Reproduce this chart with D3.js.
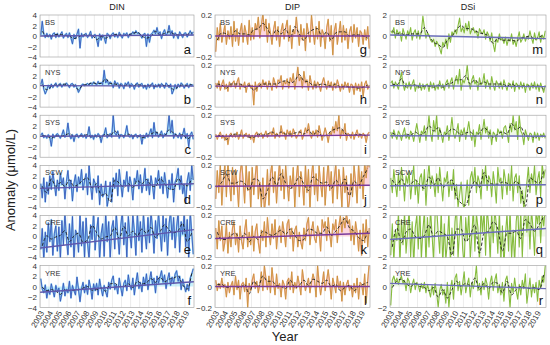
<!DOCTYPE html>
<html><head><meta charset="utf-8">
<script src="https://cdn.jsdelivr.net/npm/d3@7"></script>
<style>body{margin:0;background:#fff}svg{display:block;font-family:"Liberation Sans",Arial,sans-serif}</style>
</head><body><svg id="c" width="550" height="345"></svg>
<script>
const variables = ["DIN","DIP","DSi"];
const stations = ["BS","NYS","SYS","SCW","CRE","YRE"];
const panelLetters = [["a","b","c","d","e","f"],["g","h","i","j","k","l"],["m","n","o","p","q","r"]];
const yearTicks = [2003,2004,2005,2006,2007,2008,2009,2010,2011,2012,2013,2014,2015,2016,2017,2018,2019];
const yTicksDIN = [-4,-2,0,2,4];
const yTicksDIP = [-0.2,0,0.2];
const yTicksDSi = [-2,0,2];

// bimonthly anomalies (6 per year, 2003-2019)
const dinBS = [0.2,2.8,0.4,-0.3,0.5,-0.2, 0.3,-0.6,0.4,0.6,-0.3,0.5, -0.2,0.3,0.8,-0.4,0.2,0.5, -0.3,0.6,-0.4,-1.5,0.3,-0.5, 0.4,1.3,-2.3,0.5,-0.2,0.3, 0.5,-0.3,0.2,0.9,-0.4,0.1, 0.3,-0.6,-2.0,0.4,-0.8,0.2, -0.3,-1.4,0.5,0.2,-0.5,0.3, 0.6,-0.2,0.4,-0.3,0.7,0.1, -0.4,0.5,0.2,0.6,-0.3,0.4, 0.3,0.8,0.4,1.0,0.5,0.6, 0.2,-0.4,0.3,0.5,-2.0,0.4, -1.2,0.3,0.6,1.1,0.4,1.6, 0.3,0.8,-0.5,0.6,1.2,0.2, 0.5,2.0,0.3,1.0,-0.4,0.6, 0.2,-0.5,0.8,0.3,-0.3,0.5, 0.6,-0.2,0.4,1.0,0.3,0.8];
const dinNYS = [0.3,1.3,-0.6,-1.5,-0.8,0.2, -0.5,0.4,-0.3,0.2,0.6,-0.2, 0.3,0.5,-0.2,0.4,0.1,0.6, 0.2,-0.3,0.4,0.5,-0.2,0.3, -0.4,-1.2,-0.6,0.2,0.4,0.1, 0.3,0.5,0.2,0.6,0.3,0.8, 0.5,0.2,0.9,0.4,0.7,0.3, 3.0,0.6,1.2,0.3,0.8,0.5, -0.3,1.0,0.4,0.6,-0.4,0.5, 0.3,-0.5,0.6,0.2,0.8,-0.3, 0.5,0.2,-0.6,0.4,0.6,-0.2, 0.3,0.5,-0.4,0.2,-0.6,0.4, -0.3,0.2,0.6,-0.5,0.3,-0.2, 0.4,-0.3,0.5,0.2,-0.4,0.6, 0.2,-0.3,0.4,-1.5,-0.8,0.3, -0.5,0.4,-0.2,0.6,0.3,-0.4, 0.2,0.5,-0.3,0.4,0.1,0.3];
const dinSYS = [0.2,0.6,-0.3,0.1,-0.4,0.3, -0.2,-1.9,0.4,-0.3,0.2,0.5, 0.1,-0.4,0.3,1.2,-0.2,0.3, 2.5,0.2,-0.5,0.3,-1.0,0.2, 0.4,-0.3,0.1,0.5,-0.2,0.3, -0.4,0.2,1.8,-0.3,0.2,-0.6, 0.3,-0.2,0.5,0.1,-1.2,0.2, 0.4,1.6,-0.3,0.2,0.5,-0.2, 4.0,0.6,0.2,1.0,-0.4,0.3, 0.2,-0.3,0.5,2.0,0.1,-0.2, 0.3,-0.5,0.2,0.4,-0.3,0.1, 0.3,-1.5,0.2,-0.4,0.6,-0.2, 0.5,1.4,-0.3,2.6,0.2,0.8, -0.2,0.4,1.0,-0.3,0.5,0.2, 1.2,4.0,0.6,3.0,-0.4,0.5, 0.2,-0.3,0.6,-0.5,0.3,1.5, -0.4,0.5,-2.0,0.3,0.8,-0.6];
const dinSCW = [0.5,-2.2,1.6,-3.0,0.8,-1.5, 2.0,-0.6,2.8,0.5,-1.8,1.2, -0.8,2.5,0.3,1.6,-2.4,0.9, 3.0,-0.5,1.2,-2.8,0.6,2.2, -1.0,1.8,0.4,3.2,-0.7,1.0, 2.4,-1.6,4.0,0.2,-2.5,1.4, 0.6,-1.2,2.0,-3.5,0.4,-2.0, -1.5,1.0,-3.8,-2.2,0.8,-3.0, 1.6,-0.4,2.5,-1.8,3.2,0.5, -2.0,1.2,0.2,2.8,-1.0,1.8, 0.4,-2.6,1.5,0.8,3.0,-0.5, 2.2,-1.2,0.6,3.4,-0.8,1.4, -1.6,2.0,0.2,-2.4,1.6,0.6, 3.0,-0.4,1.8,-1.4,2.6,0.3, -2.2,1.2,-0.6,2.4,-3.0,0.8, 1.6,3.4,-0.6,2.0,-1.4,0.4, -3.2,1.0,2.6,-0.8,4.0,1.2];
const dinCRE = [-2.5,1.5,-4.5,0.8,-3.0,2.6, -1.0,3.2,-3.6,0.5,2.0,-2.8, 1.8,-4.2,3.0,-1.6,4.5,-0.5, -3.5,2.4,-2.0,3.8,-4.6,1.2, 0.6,-3.0,4.2,-1.8,2.8,-4.0, 3.5,-1.2,-4.5,2.2,-0.6,4.8, -2.6,1.0,3.6,-4.4,0.5,2.4, -3.8,4.5,-1.0,2.8,-4.2,1.6, 3.0,-2.4,4.6,0.2,-3.4,2.0, 4.8,-1.6,2.6,-4.0,3.8,0.4, -2.2,4.2,1.0,-3.6,4.6,-0.8, 2.8,-3.0,4.4,0.6,-2.4,3.6, -1.2,4.8,1.6,-3.2,3.0,-0.4, 4.6,0.8,-2.8,4.2,-1.0,3.4, -3.6,2.4,4.8,-0.6,3.6,-2.2, 1.8,4.6,-3.0,2.8,0.4,4.4, -2.0,3.2,-4.2,4.8,0.6,-3.4];
const dinYRE = [1.5,-0.5,-1.2,0.3,-2.2,-0.6, -1.5,0.5,-0.8,-2.0,0.2,-1.0, -0.3,-2.8,-1.4,0.6,-1.8,-0.5, -1.2,1.0,-2.2,0.2,-0.8,-1.6, 1.8,-0.6,-2.9,-0.4,0.8,-1.2, 0.3,-1.5,1.2,-0.2,-2.4,0.5, -0.8,0.6,-1.6,1.4,-0.4,-1.8, 0.2,-1.0,-2.0,0.8,-0.5,1.2, 2.0,-0.6,0.4,-1.4,1.6,-0.2, -1.8,0.6,1.2,-0.8,2.2,0.2, -0.6,1.6,-1.6,0.8,2.6,-0.4, 0.8,-1.0,1.8,0.2,2.4,-0.6, 1.2,2.8,0.4,1.6,-1.2,2.0, 0.6,1.8,3.0,0.8,2.2,-0.4, 1.4,2.6,0.2,1.8,0.6,2.4, 3.0,1.0,2.0,-0.6,1.4,0.2, -1.0,0.4,-0.8,1.6,2.4,3.4];

const dipBS = [-.15,.08,-.04,.12,-.06,.03, .10,-.08,.05,-.03,.09,-.10, .14,-.05,.07,-.09,.04,.12, -.06,.10,.03,-.08,.15,-.04, .08,-.03,.12,.06,.18,-.02, .10,.22,.05,.16,-.06,.12, .03,-.08,.06,.14,-.04,.09, -.10,.05,.12,-.03,.08,.15, -.05,.10,-.12,.06,.02,.18, .04,-.09,.11,-.04,.07,-.14, .12,.03,-.06,.20,.05,-.08, .09,-.03,.14,-.10,.06,.02, -.12,.08,.16,-.05,.10,-.18, .05,.12,-.08,.03,.14,-.06, .10,-.04,.07,-.12,.04,.09, -.06,.11,-.02,.08,-.10,.05, .03,-.08,.06,-.04,.09,-.12];
const dipNYS = [.03,-.02,.05,-.04,.02,.06, -.03,.02,-.05,.04,-.01,.03, .05,-.02,.04,.08,-.03,.02, -.01,.04,-.06,.02,.03,-.02, .01,-.18,.04,-.05,.02,.03, -.02,.06,.01,.04,-.03,.05, .02,-.04,.08,.03,-.02,.06, .04,.10,-.03,.05,.02,.07, -.02,.08,.04,.12,-.03,.06, .18,.05,.09,-.02,.14,.03, .06,-.04,.10,.02,-.03,.05, -.02,.04,.01,-.05,.03,.08, .02,-.03,.05,-.01,.04,-.04, .03,-.02,.06,.01,-.05,.02, -.03,.04,-.01,.03,-.06,.02, .01,-.08,.03,-.04,.02,-.05, .04,-.10,.02,.05,-.03,.01];
const dipSYS = [.02,-.03,.01,.04,-.02,.01, -.04,.02,-.08,.01,.03,-.01, .02,-.01,.04,-.03,.01,.06, -.02,.01,.03,-.01,.02,-.03, .01,-.06,.02,.04,-.01,.02, .03,-.02,.01,.05,-.01,.02, .04,.01,.08,-.02,.03,.01, -.01,.10,.02,.04,-.03,.06, .02,.05,-.01,.07,.03,-.02, .01,.04,.06,-.03,.02,.08, .03,.12,.02,-.02,.05,.01, .06,-.01,.10,.03,-.04,.02, .08,.02,-.06,.04,.01,.09, .03,.14,.05,.20,-.02,.06, .02,.12,-.04,.03,.01,-.02, .04,-.03,.02,.06,-.01,.02, -.02,.03,.01,-.06,.02,.04];
const dipSCW = [-.12,.15,-.06,.22,-.18,.08, .20,-.10,.24,.04,-.14,.18, -.08,.16,.02,-.20,.12,.24, .06,-.16,.20,-.04,.14,-.22, .18,-.08,.10,.26,-.12,.04, -.20,.08,-.24,-.10,.16,-.18, .12,.22,-.06,.14,-.16,.06, .24,-.04,.16,-.12,.20,.02, -.14,.10,-.02,.18,-.20,.08, .22,-.10,.14,.04,-.18,.20, -.06,.16,-.22,.10,.24,-.08, .12,-.14,.20,.02,-.10,.18, -.18,.06,.24,-.04,.14,-.16, .08,.22,-.12,.16,.04,-.20, .18,-.06,.10,-.24,-.14,.12, -.10,.20,.04,-.16,.22,-.02, .14,-.12,.24,.08,.26,.18];
const dipCRE = [.08,-.12,.15,-.04,.10,-.14, -.06,.12,-.16,.04,-.10,.08, .14,-.08,.03,-.15,.10,-.05, -.12,.06,.16,-.10,.04,-.08, .10,-.14,.05,.12,-.06,-.16, .06,-.04,.14,-.10,.18,.02, -.08,.12,-.02,.16,-.12,.05, .10,-.06,.14,.04,-.10,.12, .16,-.02,.08,-.14,.06,.10, -.10,.04,-.06,-.12,.08,-.04, .12,.18,-.08,.06,.14,-.02, -.06,.10,.04,-.14,.16,.08, .14,-.04,.18,.02,-.10,.12, .06,.16,-.06,.10,.20,.04, .18,.08,.22,.12,.16,-.04, .10,-.08,.14,.04,-.14,.06, -.18,.12,-.06,.16,-.10,.08];
const dipYRE = [.06,-.04,.03,-.02,.08,-.01, .02,-.10,.04,-.06,.01,.05, -.08,.10,-.03,.06,-.12,.02, .04,-.05,.08,-.20,.03,-.04, .06,.12,-.02,.05,-.06,.02, .14,-.04,.20,.08,-.03,.10, -.06,.18,.04,-.08,.12,-.02, .03,-.10,.06,.02,-.12,.05, .08,-.03,.14,-.06,.04,-.02, .10,.02,-.08,.16,.05,-.04, .02,.08,-.06,.04,.12,.06, -.10,.20,.04,-.08,.02,.14, -.04,.06,.16,.03,-.12,.08, .02,-.06,.10,-.02,.05,-.14, .04,-.08,.02,.06,-.04,.01, -.10,.03,-.06,.08,-.12,.04, .02,-.08,.12,-.16,.06,.22];

const dsiBS = [0.5,0.3,0.8,-0.2,0.6,0.2, 0.4,-0.5,0.7,0.2,-0.3,0.5, 0.1,0.8,-0.4,0.3,0.6,-0.2, 0.5,-0.3,0.4,1.9,0.8,-0.2, 0.3,0.1,-0.4,-0.6,-0.3,-1.0, -0.5,-0.8,-1.2,-1.7,-0.6,-1.0, -0.3,-1.2,0.2,-0.6,0.4,0.1, 0.6,0.2,1.0,1.7,0.4,0.8, 0.3,1.2,0.5,1.4,0.2,0.6, 0.8,0.3,0.5,-0.2,0.7,0.4, 0.2,0.6,-0.3,0.4,0.1,-0.5, 0.3,-0.8,-1.5,-0.3,-0.6,0.2, -0.4,-0.2,-0.7,-0.1,-0.9,-0.3, -0.5,0.2,-0.8,-0.4,-1.0,-0.2, 0.4,-0.6,-0.3,0.2,-0.5,-0.1, -0.3,0.5,-0.2,-0.7,0.3,-0.4, -0.2,0.4,-0.6,0.1,-0.3,0.5];
const dsiNYS = [0.3,0.5,-0.2,0.4,0.1,-0.3, 0.6,1.3,0.2,-0.4,0.3,-0.2, 0.4,-0.3,0.2,0.6,-0.5,0.1, -0.2,0.3,-0.4,0.2,-0.3,0.1, 0.2,-0.5,0.4,-0.2,0.3,-0.4, 0.1,-0.3,0.5,-0.2,0.2,-0.4, 0.3,0.6,-0.2,0.4,0.8,-0.3, 0.5,1.0,0.2,1.6,-0.4,0.6, 0.3,0.8,2.0,0.4,-0.3,0.6, 1.0,0.2,0.5,-0.4,0.8,0.1, 0.3,1.2,-0.2,0.6,0.2,-0.3, 0.9,0.1,-0.4,0.5,0.2,-0.2, 0.4,-0.3,0.6,0.1,-0.4,0.3, 0.2,-0.2,0.5,-0.5,0.3,0.1, -0.3,0.4,-0.2,0.3,-0.6,0.2, 0.1,-0.4,0.3,-0.2,0.4,-0.3, 0.2,-0.5,0.3,-0.2,-0.6,0.1];
const dsiSYS = [0.4,-0.2,0.6,0.1,-0.3,0.5, 0.2,-0.4,0.3,0.8,-0.2,0.1, -0.3,0.5,0.2,-0.5,0.4,1.2, 0.3,-0.6,0.5,0.2,1.0,-0.4, 0.6,2.0,0.3,-0.5,1.5,0.4, 2.0,-0.3,0.8,0.2,-0.6,0.4, 0.2,1.0,-0.4,0.5,1.8,0.3, -0.2,0.4,1.2,-0.5,0.6,0.2, 0.8,-0.3,0.5,1.4,0.2,-0.4, 0.6,-1.0,0.4,0.2,1.1,-0.3, 0.5,1.6,0.3,0.9,-0.2,0.6, -0.8,0.4,0.2,-0.5,0.7,0.3, 0.5,-0.2,0.8,1.0,0.3,-0.6, 1.2,0.4,2.0,0.6,1.4,-0.3, 2.0,0.5,0.2,-0.8,0.6,0.1, -0.4,0.3,0.2,-0.6,0.4,-0.2, 0.3,-0.4,0.2,-0.1,0.3,-0.2];
const dsiSCW = [0.8,-0.6,1.6,0.2,-1.0,1.2, -0.4,1.8,0.6,-1.4,1.0,0.3, 1.4,-1.2,0.4,2.0,-0.8,0.6, -1.6,0.8,1.2,-0.4,1.6,-1.8, 0.6,2.2,-0.2,1.0,0.4,-1.0, 1.2,-0.6,1.8,0.2,-1.4,0.8, 0.4,1.4,-1.0,0.6,-0.4,1.6, -1.2,0.2,-2.0,-0.8,0.4,-1.6, -2.2,-1.0,0.6,-1.8,0.8,1.4, 0.2,1.8,-0.6,1.0,0.4,-1.2, 1.6,0.2,2.0,-0.4,1.0,0.6, -1.0,1.4,0.2,-1.6,1.8,0.4, 0.8,-1.2,1.6,0.6,-0.8,1.2, -0.4,2.0,-1.4,0.8,1.2,-0.6, 1.0,-1.6,-0.4,-2.2,-1.0,0.4, 1.8,-0.6,1.2,0.2,2.0,-0.8, 0.6,1.4,-1.0,2.2,0.8,1.6];
const dsiCRE = [-1.8,1.2,-2.4,0.6,-0.4,2.2, -2.6,1.6,-0.8,2.4,-1.6,0.4, 2.6,-2.0,1.4,-2.8,0.8,2.0, -1.2,2.8,-2.2,0.6,2.4,-2.6, 1.8,-1.0,2.6,0.2,-2.4,2.2, 2.8,0.4,-1.6,2.6,-2.8,1.2, -2.2,-0.6,2.4,-2.6,0.8,-1.8, 1.4,2.8,-2.0,0.6,2.6,-1.2, -2.8,1.8,-0.4,2.4,-2.2,0.2, 2.6,-1.4,2.2,0.8,-2.6,2.8, 0.4,2.4,-1.8,2.8,1.0,-2.2, 2.2,-0.6,2.6,1.2,-1.6,2.4, -2.4,1.0,-2.8,0.2,2.2,-1.4, 2.6,-2.2,0.6,-2.6,1.4,2.8, -1.0,2.4,-2.0,1.6,2.8,0.4, 2.2,-1.2,2.6,0.8,-1.8,2.4, 1.2,2.8,-0.6,2.2,1.0,2.6];
const dsiYRE = [-1.8,0.6,1.0,0.4,0.8,0.2, 0.7,1.0,0.3,0.6,-0.4,0.8, 0.5,-0.6,0.2,0.7,-0.3,0.4, 0.1,-0.5,0.3,-0.2,0.4,-0.6, 0.2,-0.4,-1.0,0.1,-0.8,0.3, -0.6,-2.0,-0.4,0.2,-0.8,-0.3, -1.6,0.4,-2.0,-0.2,0.6,-1.2, 0.8,1.2,-0.4,0.5,-0.8,0.3, 1.4,-0.6,0.2,0.8,-1.0,0.4, -0.2,0.6,2.0,-0.4,0.3,-0.8, 0.5,-0.3,0.8,0.2,-1.2,0.4, 1.0,-0.4,0.6,1.2,-0.6,0.2, -0.8,0.4,-1.4,0.6,1.0,-0.2, -2.0,0.3,-0.6,0.8,-0.4,-1.2, 0.2,-0.8,0.6,-0.2,1.2,-1.6, -0.4,0.8,-1.0,0.2,-0.6,0.4, -1.4,0.6,-0.2,1.0,0.4,2.0];

// smoothed (half-yearly) anomalies, dashed lines
const sDinBS = [0.9,0.0,0.0,0.3,0.3,0.1,0.0,-0.5,-0.2,0.2,0.1,0.2,-0.7,-0.1,-0.4,0.0,0.3,0.2,0.1,0.2,0.5,0.7,0.0,-0.4,-0.1,0.9,0.2,0.5,0.8,0.4,0.2,0.2,0.3,0.6];
const sDinNYS = [0.3,-0.7,-0.1,0.2,0.2,0.4,0.1,0.2,-0.7,0.2,0.3,0.6,0.5,0.5,1.4,0.5,0.4,0.2,0.1,0.2,0.0,0.3,0.1,0.0,0.2,-0.1,0.2,0.1,0.1,-0.7,-0.1,0.2,0.1,0.3];
const sDinSYS = [0.1,0.0,-0.4,0.1,0.0,0.2,0.5,-0.1,0.1,0.1,0.3,-0.2,0.1,-0.2,0.4,0.1,1.0,0.2,0.1,0.4,0.0,0.1,-0.3,0.0,0.4,0.8,0.3,0.1,1.2,0.6,0.1,0.3,-0.5,0.1];
const sDinSCW = [0.0,-1.2,1.4,0.0,0.7,0.0,1.2,0.0,0.4,1.2,1.6,-0.3,0.5,-1.7,-1.4,-3.0,1.2,0.6,-0.2,0.5,-0.2,1.1,0.5,1.3,0.2,-0.1,1.5,0.5,-0.5,-0.6,1.5,0.3,0.1,1.5];
const sDinCRE = [-1.8,0.1,-0.5,-0.1,0.2,1.1,-1.0,0.1,0.6,-1.1,-0.7,2.1,0.7,-0.5,-0.1,0.1,1.7,-0.4,1.9,0.1,1.0,0.1,1.4,0.6,1.7,-0.2,0.9,2.2,1.2,0.7,1.1,2.5,-1.0,0.7];
const sDinYRE = [-0.1,-0.8,-0.6,-0.9,-1.5,-0.6,-0.8,-0.7,-0.6,-0.3,0.0,-0.7,-0.6,-0.3,-0.9,0.5,0.6,0.0,0.0,0.5,-0.2,1.0,0.5,0.7,1.5,0.8,1.8,0.9,1.4,1.6,2.0,0.3,-0.5,2.5];
const sDipBS = [-.04,.03,.02,-.01,.05,.02,.02,.01,.06,.07,.12,.07,.00,.06,.02,.07,-.02,.09,.02,-.04,.03,.06,.07,-.01,.04,-.04,.03,.04,.04,.00,.01,.01,.00,-.02];
const sDipNYS = [.02,.01,-.02,.02,.02,.02,-.01,.01,-.04,.00,.02,.02,.02,.02,.04,.05,.03,.05,.11,.05,.04,.01,.01,.02,.01,.00,.02,-.01,.00,-.01,-.01,-.02,-.01,.01];
const sDipSYS = [.00,.01,-.03,.01,.02,.01,.01,-.01,-.01,.02,.01,.02,.04,.01,.04,.02,.02,.03,.04,.02,.06,.01,.05,.00,.01,.05,.07,.08,.03,.01,.01,.02,.01,.00];
const sDipSCW = [-.01,.04,.11,.03,.03,.05,.03,-.04,.07,.06,-.12,-.04,.09,.01,.12,.03,-.02,.02,.09,.02,-.04,.09,.06,.03,.04,-.02,.06,.00,.07,-.09,.05,.01,.09,.17];
const sDipCRE = [.04,-.03,-.03,.01,.03,-.03,.03,-.05,.00,-.03,.05,.03,.01,.03,.06,.02,.07,.01,-.04,-.03,.07,.06,.03,.03,.09,.01,.05,.11,.17,.08,.05,-.01,-.04,.05];
const sDipYRE = [.02,.02,-.01,.00,.00,-.01,.02,-.07,.05,.00,.10,.05,.05,.01,.00,-.02,.06,-.01,.01,.06,.01,.07,.05,.03,.06,.00,.02,-.04,-.01,.01,-.04,.00,.02,.04];
const sDsiBS = [0.5,0.2,0.2,0.1,0.2,0.2,0.2,0.8,0.0,-0.6,-0.8,-1.1,-0.4,0.0,0.6,1.0,0.7,0.7,0.5,0.3,0.2,0.0,-0.7,-0.2,-0.4,-0.4,-0.4,-0.5,-0.2,-0.1,0.0,-0.3,-0.1,0.1];
const sDsiNYS = [0.2,0.1,0.7,-0.1,0.1,0.1,-0.1,0.0,0.0,-0.1,0.1,-0.1,0.2,0.3,0.6,0.6,1.0,0.2,0.6,0.2,0.4,0.2,0.2,0.2,0.2,0.0,0.2,0.0,0.0,0.0,0.0,0.0,0.0,-0.3];
const sDsiSYS = [0.3,0.1,0.0,0.2,0.1,0.4,0.1,0.3,1.0,0.5,0.8,0.0,0.3,0.7,0.5,0.1,0.3,0.4,0.0,0.3,0.8,0.4,-0.1,0.2,0.4,0.2,1.2,0.6,0.9,0.0,0.0,-0.1,0.0,0.0];
const sDsiSCW = [0.6,0.1,0.7,0.0,0.2,0.6,0.1,-0.2,0.9,0.1,0.8,-0.1,0.3,0.6,-1.0,-1.6,-1.8,-0.5,0.5,-0.1,1.3,0.4,0.2,0.2,0.4,0.3,0.1,0.5,-0.3,-1.9,0.8,0.5,0.3,1.5];
const sDsiCRE = [-1.0,0.8,-0.6,0.4,0.7,0.0,-0.2,0.1,1.1,0.0,0.5,0.3,0.0,-1.8,0.7,0.7,-0.5,0.1,1.1,-1.6,0.3,0.5,1.4,0.7,-1.4,0.3,0.3,0.5,-0.2,1.6,1.2,0.5,1.1,1.9];
const sDsiYRE = [-0.1,0.5,0.7,0.3,0.0,0.3,0.0,-0.1,-0.4,-0.1,-1.0,-0.3,-1.1,-0.3,0.5,0.0,0.3,0.1,0.8,-0.3,0.3,-0.2,0.4,0.3,-0.6,0.5,-0.8,-0.3,0.0,-0.1,-0.2,-0.1,-0.3,1.1];

// linear trends: values at start (2003) and end (2020) of the record
const trendDIN = [[0.0,0.2],[0.1,0.0],[0.0,0.1],[-0.4,0.5],[-2.2,1.3],[-1.1,0.9]];
const trendDIP = [[0.0,0.0],[0.0,-0.01],[0.0,0.01],[0.0,0.01],[-0.02,0.03],[0.0,0.0]];
const trendDSi = [[0.1,-0.25],[0.05,-0.05],[0.05,0.0],[0.05,0.15],[-0.3,0.75],[0.3,-0.2]];

const monthly = [[dinBS,dinNYS,dinSYS,dinSCW,dinCRE,dinYRE],[dipBS,dipNYS,dipSYS,dipSCW,dipCRE,dipYRE],[dsiBS,dsiNYS,dsiSYS,dsiSCW,dsiCRE,dsiYRE]];
const smooth = [[sDinBS,sDinNYS,sDinSYS,sDinSCW,sDinCRE,sDinYRE],[sDipBS,sDipNYS,sDipSYS,sDipSCW,sDipCRE,sDipYRE],[sDsiBS,sDsiNYS,sDsiSYS,sDsiSCW,sDsiCRE,sDsiYRE]];
const trends = [trendDIN,trendDIP,trendDSi];
const yTicks = [yTicksDIN,yTicksDIP,yTicksDSi];

const svg = d3.select("#c");
const colX = [40,215,390], colW = [154,155,156];
const H = 42;
const rowY = r => 15 + 50.1*r;
const styles = [
  {under:"#7cc8f2", uw:1.7, uo:0.9, line:"#3a55b8", fill:"#c9f1fb", trend:"#5e58ad", lw:0.85},
  {under:"#f07a5a", uw:1.3, uo:0.55, line:"#c9953a", fill:"#fcd6df", trend:"#7b3a9c", lw:0.85},
  {under:null, line:"#86bc3e", fill:"#eff8e6", trend:"#6a6cba", lw:1.1}
];
const defs = svg.append("defs");

variables.forEach((v,c)=>{
  const st = styles[c];
  const x = d3.scaleLinear().domain([2003,2020]).range([colX[c], colX[c]+colW[c]]);
  const ext = d3.extent(yTicks[c]);
  svg.append("text").attr("x",(colX[c]+colX[c]+colW[c])/2).attr("y",10)
    .attr("text-anchor","middle").attr("font-size",9).attr("fill","#222").text(v);
  stations.forEach((s,r)=>{
    const top = rowY(r), bot = top + H;
    const y = d3.scaleLinear().domain(ext).range([bot, top]);
    const id = `cl${c}${r}`;
    defs.append("clipPath").attr("id",id).append("rect")
      .attr("x",colX[c]).attr("y",top).attr("width",colW[c]).attr("height",H);
    const g = svg.append("g");
    const pg = g.append("g").attr("clip-path",`url(#${id})`);
    const pts = monthly[c][r].map((d,k)=>[2003+(2*k+1)/12, d]);
    const sp = smooth[c][r].map((d,k)=>[2003.25+0.5*k, d]);
    pg.append("path").attr("d", d3.area().x(d=>x(d[0])).y0(y(0)).y1(d=>y(d[1]))(pts))
      .attr("fill",st.fill);
    pg.selectAll("line.gr").data(yearTicks).join("line").attr("class","gr")
      .attr("x1",d=>x(d)).attr("x2",d=>x(d)).attr("y1",top).attr("y2",bot)
      .attr("stroke","#d9d9d9").attr("stroke-width",0.5);
    const ln = d3.line().x(d=>x(d[0])).y(d=>y(d[1]));
    if (st.under) pg.append("path").attr("d",ln(pts)).attr("fill","none")
      .attr("stroke",st.under).attr("stroke-width",st.uw).attr("stroke-opacity",st.uo).attr("stroke-linejoin","round");
    pg.append("path").attr("d",ln(pts)).attr("fill","none")
      .attr("stroke",st.line).attr("stroke-width",st.lw).attr("stroke-linejoin","round");
    pg.append("path").attr("d",d3.line().curve(d3.curveMonotoneX).x(d=>x(d[0])).y(d=>y(d[1]))(sp))
      .attr("fill","none").attr("stroke","#1a1a1a").attr("stroke-width",0.9).attr("stroke-dasharray","3,2");
    const tr = trends[c][r];
    pg.append("line").attr("x1",x(2003)).attr("x2",x(2020)).attr("y1",y(tr[0])).attr("y2",y(tr[1]))
      .attr("stroke",st.trend).attr("stroke-width",1.4);
    g.append("rect").attr("x",colX[c]).attr("y",top).attr("width",colW[c]).attr("height",H)
      .attr("fill","none").attr("stroke","#9a9a9a").attr("stroke-width",0.6);
    const fmt = c===1 ? (d=> d===0 ? "0" : d3.format(".1f")(d)) : d3.format("d");
    const ax = g.append("g").attr("transform",`translate(${colX[c]},0)`)
      .call(d3.axisLeft(y).tickValues(yTicks[c]).tickFormat(fmt).tickSize(0).tickPadding(3));
    ax.select(".domain").remove();
    ax.selectAll("text").attr("font-size",8).attr("fill","#333").attr("font-family","Liberation Sans, Arial, sans-serif");
    g.append("text").attr("x",colX[c]+5).attr("y",top+10).attr("font-size",7.5).attr("fill","#333").text(s);
    g.append("text").attr("x",colX[c]+colW[c]-3).attr("y",bot-3).attr("text-anchor","end")
      .attr("font-size",13).attr("fill","#111").text(panelLetters[c][r]);
    if (r===stations.length-1) {
      g.selectAll("text.yr").data(yearTicks).join("text").attr("class","yr")
        .attr("transform",d=>`translate(${x(d)+2},${bot+4}) rotate(-60)`)
        .attr("text-anchor","end").attr("dy","0.35em").attr("font-size",8).attr("fill","#333").text(d=>d);
    }
  });
});
svg.append("text").attr("transform","translate(15,180) rotate(-90)").attr("text-anchor","middle")
  .attr("font-size",13).attr("fill","#222").text("Anomaly (μmol/L)");
svg.append("text").attr("x",285).attr("y",341).attr("text-anchor","middle")
  .attr("font-size",13).attr("fill","#222").text("Year");
</script></body></html>
